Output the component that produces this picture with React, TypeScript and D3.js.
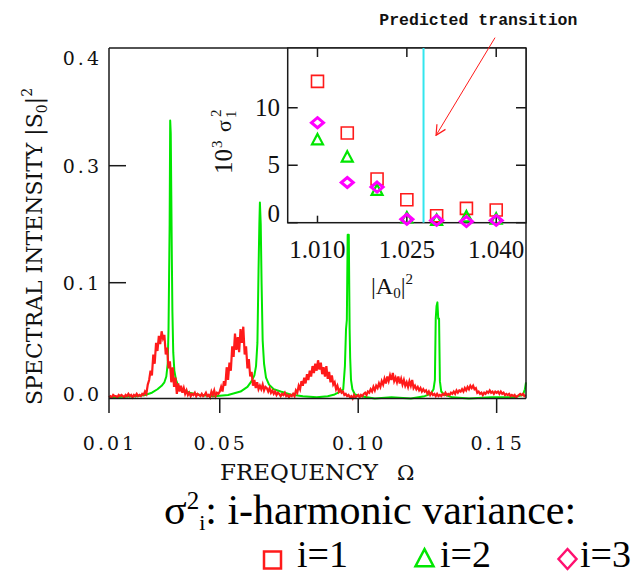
import React from "react";
import * as d3 from "d3";

// main spectrum: red = noisy spectrum, green = periodic state
const redStart = 0.01;
const redStep = 0.0005;
const redValues = [
  0.001, 0.002, 0.001, 0.003, 0.002, 0.002, 0.001, 0.003, 0.002, 0.003,
  0.002, 0.001, 0.003, 0.002, 0.004, 0.002, 0.003, 0.001, 0.003, 0.002,
  0.004, 0.002, 0.003, 0.002, 0.004, 0.003, 0.006, 0.004, 0.012, 0.016,
  0.024, 0.020, 0.038, 0.030, 0.048, 0.041, 0.054, 0.047, 0.058, 0.052,
  0.055, 0.038, 0.044, 0.026, 0.032, 0.014, 0.027, 0.010, 0.018, 0.004,
  0.013, 0.006, 0.011, 0.005, 0.009, 0.004, 0.007, 0.003, 0.005, 0.002,
  0.004, 0.003, 0.005, 0.002, 0.004, 0.003, 0.002, 0.004, 0.002, 0.003,
  0.005, 0.002, 0.003, 0.001, 0.006, 0.003, 0.007, 0.002, 0.005, 0.004,
  0.006, 0.010, 0.006, 0.015, 0.011, 0.027, 0.016, 0.031, 0.024, 0.045,
  0.036, 0.056, 0.042, 0.053, 0.040, 0.060, 0.048, 0.062, 0.038, 0.045,
  0.026, 0.034, 0.019, 0.023, 0.011, 0.016, 0.009, 0.014, 0.008, 0.011,
  0.008, 0.012, 0.007, 0.010, 0.009, 0.006, 0.009, 0.005, 0.007, 0.004,
  0.006, 0.003, 0.005, 0.004, 0.002, 0.004, 0.003, 0.005, 0.002, 0.003,
  0.001, 0.003, 0.002, 0.004, 0.002, 0.007, 0.005, 0.011, 0.008, 0.015,
  0.011, 0.018, 0.013, 0.021, 0.016, 0.024, 0.019, 0.028, 0.022, 0.030,
  0.024, 0.033, 0.025, 0.031, 0.021, 0.027, 0.019, 0.028, 0.017, 0.023,
  0.014, 0.020, 0.012, 0.014, 0.008, 0.011, 0.006, 0.008, 0.005, 0.006,
  0.003, 0.004, 0.002, 0.003, 0.001, 0.002, 0.000, 0.003, 0.001, 0.002,
  0.003, 0.001, 0.003, 0.002, 0.004, 0.005, 0.003, 0.006, 0.005, 0.008,
  0.006, 0.010, 0.007, 0.011, 0.009, 0.013, 0.010, 0.015, 0.012, 0.017,
  0.013, 0.019, 0.015, 0.020, 0.016, 0.022, 0.015, 0.018, 0.014, 0.019,
  0.013, 0.017, 0.012, 0.016, 0.011, 0.014, 0.010, 0.015, 0.011, 0.016,
  0.009, 0.011, 0.008, 0.010, 0.007, 0.009, 0.006, 0.008, 0.006, 0.007,
  0.004, 0.006, 0.003, 0.005, 0.003, 0.004, 0.002, 0.004, 0.002, 0.003,
  0.002, 0.004, 0.003, 0.005, 0.003, 0.004, 0.003, 0.005, 0.004, 0.006,
  0.004, 0.007, 0.005, 0.007, 0.006, 0.008, 0.006, 0.009, 0.007, 0.010,
  0.008, 0.011, 0.009, 0.011, 0.008, 0.009, 0.005, 0.006, 0.004, 0.005,
  0.003, 0.005, 0.004, 0.006, 0.005, 0.007, 0.005, 0.006, 0.004, 0.006,
  0.005, 0.006, 0.004, 0.006, 0.004, 0.005, 0.003, 0.004, 0.003, 0.004,
  0.002, 0.003, 0.002, 0.003, 0.001, 0.002, 0.003, 0.004, 0.003, 0.004,
  0.002, 0.003,
];

const greenFreq = [
  0.01, 0.015, 0.02, 0.023, 0.0255, 0.0275, 0.029, 0.03, 0.0307, 0.0312,
  0.0315, 0.0317, 0.0319, 0.0321, 0.0323, 0.0325, 0.0327, 0.0329, 0.0332, 0.0336,
  0.0342, 0.035, 0.0365, 0.039, 0.043, 0.048, 0.053, 0.0575, 0.06, 0.0615,
  0.0625, 0.0631, 0.0636, 0.064, 0.0643, 0.0645, 0.0648, 0.0651, 0.0655, 0.066,
  0.0667, 0.0678, 0.0695, 0.072, 0.0755, 0.08, 0.085, 0.089, 0.0915, 0.0935,
  0.0946, 0.0952, 0.0956, 0.0959, 0.0962, 0.0966, 0.0969, 0.0971, 0.0974, 0.0979,
  0.0988, 0.101, 0.106, 0.112, 0.119, 0.124, 0.1262, 0.1272, 0.1277, 0.128,
  0.1283, 0.1286, 0.1289, 0.1292, 0.1295, 0.13, 0.131, 0.134, 0.14, 0.148,
  0.156, 0.1595, 0.1602, 0.1606,
];
const greenValues = [
  0.001, 0.0015, 0.002, 0.003, 0.005, 0.008, 0.011, 0.014, 0.019, 0.03,
  0.06, 0.11, 0.2, 0.342, 0.33, 0.25, 0.14, 0.075, 0.04, 0.024,
  0.016, 0.011, 0.008, 0.005, 0.003, 0.002, 0.003, 0.006, 0.01, 0.015,
  0.02, 0.028, 0.048, 0.12, 0.2, 0.237, 0.2, 0.1, 0.05, 0.03,
  0.018, 0.012, 0.008, 0.006, 0.0035, 0.002, 0.001, 0.002, 0.0035, 0.006,
  0.008, 0.028, 0.06, 0.068, 0.182, 0.182, 0.06, 0.035, 0.016, 0.008,
  0.0035, 0.002, 0.0, 0.001, 0.0, 0.002, 0.004, 0.008, 0.016, 0.069,
  0.08, 0.083, 0.069, 0.069, 0.015, 0.006, 0.0035, 0.001, 0.0, 0.001,
  0.001, 0.003, 0.008, 0.014,
];

const yTickValues = [0.0, 0.1, 0.3, 0.4];
const yTickLabels = ["0.0", "0.1", "0.3", "0.4"];
const xTickValues = [0.01, 0.05, 0.1, 0.15];
const xTickLabels = ["0.01", "0.05", "0.10", "0.15"];

// inset: harmonic variances vs |A0|^2
const insetX = [1.01, 1.015, 1.02, 1.025, 1.03, 1.035, 1.04];
const variance1 = [12.3, 7.8, 3.8, 2.0, 0.6, 1.25, 1.1];
const variance2 = [7.2, 5.7, 2.8, 0.4, 0.2, 0.5, 0.3];
const variance3 = [8.7, 3.5, 3.1, 0.3, 0.2, 0.1, 0.2];
const insetXTicks = [1.01, 1.025, 1.04];
const insetXTickLabels = ["1.010", "1.025", "1.040"];
const insetYTicks = [0, 5, 10];
const transition = 1.0278;

const legendLabels = ["i=1", "i=2", "i=3"];

const RED = "#ff1a1a";
const GREEN = "#00e600";
const MAGENTA = "#ff00ff";
const CYAN = "#33e6ee";
const AXIS = "#1a1a1a";

const App = () => {
  const left = 109, right = 526, top = 48, zeroY = 398.5, bottom = 413;
  const x = d3.scaleLinear().domain([0.01, 0.1606]).range([left, right]);
  // axis labels of the original are not evenly spaced; keep the same piecewise mapping
  const y = d3.scaleLinear().domain([0, 0.1, 0.3, 0.4]).range([zeroY, 282.7, 165.7, 58]);

  const ix = d3.scaleLinear().domain([1.005, 1.045]).range([287.7, right]);
  const iy = d3.scaleLinear().domain([0, 15.2]).range([222.7, top]);

  const redLine = d3
    .line<number>()
    .x((d, i) => x(redStart + i * redStep))
    .y(d => y(d));
  const greenLine = d3
    .line<number>()
    .x((d, i) => x(greenFreq[i]))
    .y(d => y(d));

  const tickFont = { fontFamily: "DejaVu Serif", fontSize: 19, letterSpacing: 3, fill: "#111" };
  const insetFont = { fontFamily: "Liberation Serif", fontSize: 25, fill: "#111" };

  const square = (cx: number, cy: number, s: number) =>
    `M${cx - s / 2},${cy - s / 2}h${s}v${s}h${-s}Z`;
  const triangle = (cx: number, cy: number, s: number) =>
    `M${cx},${cy - s * 0.55}L${cx + s / 2},${cy + s * 0.4}L${cx - s / 2},${cy + s * 0.4}Z`;
  const diamond = (cx: number, cy: number, w: number, h: number) =>
    `M${cx},${cy - h / 2}L${cx + w / 2},${cy}L${cx},${cy + h / 2}L${cx - w / 2},${cy}Z`;

  return (
    <svg width={644} height={575} style={{ position: "absolute", left: 0, top: 0, background: "#fff" }}>
      <defs>
        <marker id="arrow" viewBox="0 0 12 12" refX="11" refY="6" markerWidth="12" markerHeight="12" orient="auto" markerUnits="userSpaceOnUse">
          <path d="M1,1 L11,6 L1,11" fill="none" stroke={RED} strokeWidth={1.2} />
        </marker>
      </defs>

      {/* curves */}
      <path d={greenLine(greenValues) || ""} fill="none" stroke={GREEN} strokeWidth={2} strokeLinejoin="round" />
      <path d={redLine(redValues) || ""} fill="none" stroke={RED} strokeWidth={2.2} />

      {/* frame */}
      <g stroke={AXIS} strokeWidth={1.5} fill="none">
        <line x1={left} y1={top} x2={right} y2={top} />
        <line x1={left} y1={top} x2={left} y2={bottom} />
        <line x1={right} y1={top} x2={right} y2={zeroY} />
        <line x1={left} y1={zeroY} x2={right} y2={zeroY} />
        {[0.1, 0.3].map(v => (
          <line key={v} x1={left} x2={left + 17} y1={y(v)} y2={y(v)} />
        ))}
        {xTickValues.slice(1).map(v => (
          <line key={v} x1={x(v)} x2={x(v)} y1={zeroY} y2={bottom} />
        ))}
      </g>

      {/* tick labels */}
      {yTickValues.map((v, i) => (
        <text key={v} x={102} y={(v === 0 ? y(v) - 5 : y(v)) + 7} textAnchor="end" style={tickFont}>
          {yTickLabels[i]}
        </text>
      ))}
      {xTickValues.map((v, i) => (
        <text key={v} x={x(v) + 1} y={450} textAnchor="middle" style={tickFont}>
          {xTickLabels[i]}
        </text>
      ))}

      {/* axis titles */}
      <text transform="translate(42,405) rotate(-90)" style={{ fontFamily: "DejaVu Serif", fontSize: 22, fill: "#111" }}>
        SPECTRAL INTENSITY |S
        <tspan dy={5} fontSize={14}>0</tspan>
        <tspan dy={-5}>|</tspan>
        <tspan dy={-10} fontSize={14}>2</tspan>
      </text>
      <text x={220} y={480} style={{ fontFamily: "DejaVu Serif", fontSize: 23, fill: "#111" }}>
        FREQUENCY
      </text>
      <text x={397} y={480} style={{ fontFamily: "DejaVu Serif", fontSize: 21, fill: "#111" }}>
        Ω
      </text>

      {/* inset */}
      <rect x={ix(1.005)} y={top} width={right - ix(1.005)} height={iy(0) - top} fill="#fff" stroke={AXIS} strokeWidth={1.5} />
      <line x1={ix(transition)} x2={ix(transition)} y1={top} y2={iy(0)} stroke={CYAN} strokeWidth={2} />
      <g stroke={AXIS} strokeWidth={1.5}>
        {insetYTicks.map(v => (
          <g key={v}>
            <line x1={ix(1.005)} x2={ix(1.005) + 10} y1={iy(v)} y2={iy(v)} />
            <line x1={right} x2={right - 10} y1={iy(v)} y2={iy(v)} />
          </g>
        ))}
        {insetXTicks.map(v => (
          <g key={v}>
            <line x1={ix(v)} x2={ix(v)} y1={top} y2={top + 9} />
            <line x1={ix(v)} x2={ix(v)} y1={iy(0)} y2={iy(0) - 7} />
          </g>
        ))}
      </g>
      {insetX.map((v, i) => (
        <g key={v} fill="none">
          <path d={square(ix(v), iy(variance1[i]), 12)} stroke={RED} strokeWidth={1.6} />
          <path d={triangle(ix(v), iy(variance2[i]), 11)} stroke={GREEN} strokeWidth={2.2} />
          <path d={diamond(ix(v), iy(variance3[i]), 12, 10)} stroke={MAGENTA} strokeWidth={3} />
        </g>
      ))}
      {insetYTicks.map(v => (
        <text key={v} x={280} y={Math.min(iy(v) + 8, 222)} textAnchor="end" style={insetFont}>
          {v}
        </text>
      ))}
      {insetXTicks.map((v, i) => (
        <text key={v} x={ix(v)} y={258} textAnchor="middle" style={insetFont}>
          {insetXTickLabels[i]}
        </text>
      ))}
      <text x={371} y={294} style={{ fontFamily: "Liberation Serif", fontSize: 24, fill: "#111" }}>
        |A
        <tspan dy={4} fontSize={15}>0</tspan>
        <tspan dy={-4}>|</tspan>
        <tspan dy={-10} fontSize={15}>2</tspan>
      </text>
      <g transform="translate(232,174) rotate(-90)" style={{ fontFamily: "Liberation Serif", fill: "#111" }}>
        <text x={0} y={0} fontSize={25}>10</text>
        <text x={26} y={-10} fontSize={15}>3</text>
        <text x={42} y={-1} fontSize={22}>σ</text>
        <text x={56} y={4} fontSize={15}>1</text>
        <text x={57} y={-11} fontSize={15}>2</text>
      </g>

      {/* annotation */}
      <text x={ix(1.037)} y={iy(17.2)} textAnchor="middle" style={{ fontFamily: "Liberation Mono", fontSize: 16.5, fontWeight: "bold", fill: "#111" }}>
        Predicted transition
      </text>
      <line x1={ix(1.0398)} y1={iy(16.1)} x2={ix(1.0299)} y2={iy(7.6)} stroke={RED} strokeWidth={1} markerEnd="url(#arrow)" />

      {/* legend */}
      <text x={164} y={524} style={{ fontFamily: "Liberation Serif", fontSize: 42, fill: "#000" }}>
        σ<tspan dy={-15} fontSize={25}>2</tspan>
        <tspan dy={21} fontSize={22}>i</tspan>
        <tspan dy={-6}>: i-harmonic variance:</tspan>
      </text>
      <path d={square(272.5, 560, 17)} fill="none" stroke={RED} strokeWidth={2.5} />
      <path d={triangle(424.5, 559, 18)} fill="none" stroke={GREEN} strokeWidth={2.5} />
      <path d={diamond(567.5, 559, 18, 20)} fill="none" stroke="#ff1070" strokeWidth={2.5} />
      {legendLabels.map((t, i) => (
        <text key={t} x={[297, 440, 580][i]} y={567} style={{ fontFamily: "Liberation Serif", fontSize: 38, fill: "#000" }}>
          {t}
        </text>
      ))}
    </svg>
  );
};

export default App;
